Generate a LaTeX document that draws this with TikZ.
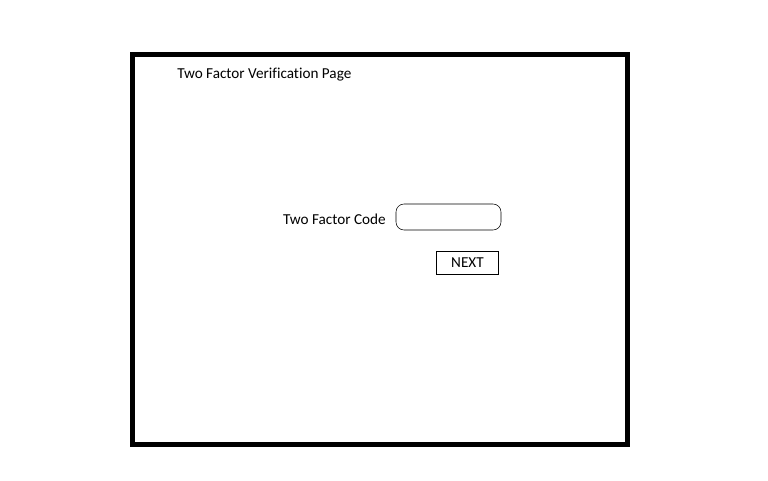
\documentclass[tikz,border=0pt]{standalone}
\usepackage{fontspec}
\setmainfont{Carlito}[Ligatures=NoCommon]
\begin{document}
\begin{tikzpicture}[x=0.75pt,y=-0.75pt,font=\fontsize{11.4}{13}\selectfont]
        \useasboundingbox (0,0) rectangle (768,480);
        \draw[line width=3.75pt] (132.5,54.5) rectangle (627.5,444.5);
        \node[anchor=west,inner sep=0] (title) at (177,75) {Two Factor Verification Page};
        \node[draw,rounded corners=6pt,minimum width=78.75pt,minimum height=19.5pt] (codebox) at (448.5,217) {};
        \node[anchor=east,inner sep=0] (codelabel) at (386,219) {Two Factor Code};
        \node[draw,minimum width=46.5pt,minimum height=17.25pt,inner sep=0] (next) at (467.5,262.5) {NEXT};
            \end{tikzpicture}
\end{document}
